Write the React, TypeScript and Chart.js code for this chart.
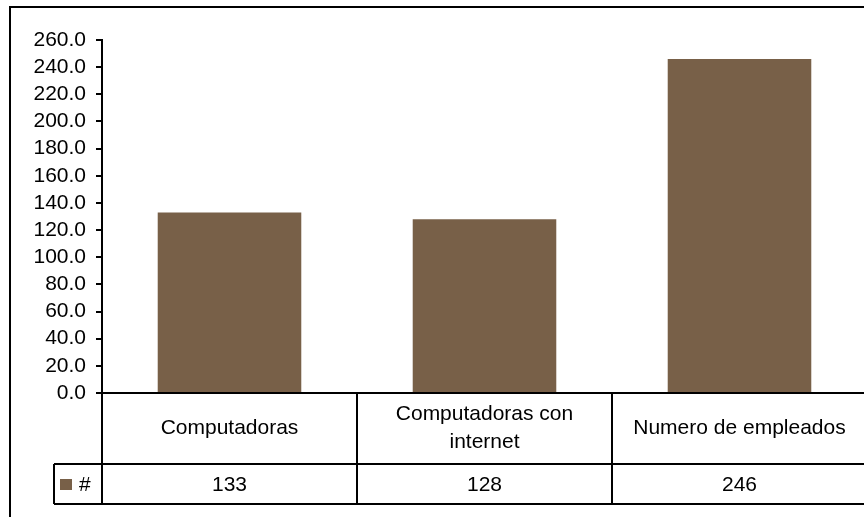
import React, { useEffect, useRef } from "react";
import { Chart, registerables } from "chart.js";

Chart.register(...registerables);

// Category labels (line breaks as drawn in the data table)
const categories: string[][] = [
  ["Computadoras"],
  ["Computadoras con", "internet"],
  ["Numero de empleados"],
];
const seriesName = "#";
const seriesValues = [133, 128, 246];
const yTicks = [0, 20, 40, 60, 80, 100, 120, 140, 160, 180, 200, 220, 240, 260];

const BAR_COLOR = "#786048";
const FONT = "'Liberation Sans', Arial, sans-serif";
const FONT_SIZE = 21;

const dataTablePlugin = {
  id: "dataTable",
  afterDraw(chart: any) {
    const ctx: CanvasRenderingContext2D = chart.ctx;
    const area = chart.chartArea;
    const xs = chart.scales.x;
    const n = categories.length;
    const step = (area.right - area.left) / n;
    const top = area.bottom;
    const mid = top + 71;
    const bottom = mid + 40;
    const legendLeft = 54;

    ctx.save();
    ctx.strokeStyle = "#000";
    ctx.lineWidth = 2;
    ctx.beginPath();
    // axis line / table top
    ctx.moveTo(area.left, top);
    ctx.lineTo(area.right + 2, top);
    // row separator and bottom edge
    ctx.moveTo(legendLeft, mid);
    ctx.lineTo(area.right + 2, mid);
    ctx.moveTo(legendLeft, bottom);
    ctx.lineTo(area.right + 2, bottom);
    // legend cell left edge
    ctx.moveTo(legendLeft, mid);
    ctx.lineTo(legendLeft, bottom);
    // column separators
    for (let i = 0; i <= n; i++) {
      const x = area.left + i * step;
      ctx.moveTo(x, top);
      ctx.lineTo(x, bottom);
    }
    ctx.stroke();

    // outer frame
    ctx.beginPath();
    ctx.moveTo(10, chart.height + 2);
    ctx.lineTo(10, 7);
    ctx.lineTo(chart.width + 2, 7);
    ctx.stroke();

    ctx.fillStyle = "#000";
    ctx.font = `${FONT_SIZE}px ${FONT}`;
    ctx.textAlign = "center";
    ctx.textBaseline = "middle";
    const lineH = 28;
    categories.forEach((lines, i) => {
      const cx = xs.getPixelForValue(i);
      const cy = (top + mid) / 2;
      lines.forEach((t, k) => {
        const y = cy + (k - (lines.length - 1) / 2) * lineH;
        ctx.fillText(t, cx, y);
      });
      ctx.fillText(String(seriesValues[i]), cx, (mid + bottom) / 2 + 1);
    });

    // legend key
    const ly = (mid + bottom) / 2;
    ctx.fillStyle = BAR_COLOR;
    ctx.fillRect(60, ly - 5, 12, 11);
    ctx.fillStyle = "#000";
    ctx.textAlign = "left";
    ctx.fillText(seriesName, 79, ly + 1);
    ctx.restore();
  },
};

const bgPlugin = {
  id: "bg",
  beforeDraw(chart: any) {
    const ctx = chart.ctx;
    ctx.save();
    ctx.fillStyle = "#fff";
    ctx.fillRect(0, 0, chart.width, chart.height);
    ctx.restore();
  },
};

export default function App() {
  const ref = useRef<HTMLCanvasElement>(null);

  useEffect(() => {
    if (!ref.current) return;
    const chart = new Chart(ref.current, {
      type: "bar",
      data: {
        labels: categories.map((c) => c.join(" ")),
        datasets: [
          {
            label: seriesName,
            data: seriesValues,
            backgroundColor: BAR_COLOR,
            borderWidth: 0,
            categoryPercentage: 1,
            barPercentage: 0.563,
          },
        ],
      },
      options: {
        responsive: false,
        animation: false,
        layout: { padding: { left: 0, top: 40, right: 0, bottom: 124 } },
        plugins: {
          legend: { display: false },
          tooltip: { enabled: false },
        },
        scales: {
          x: { display: false },
          y: {
            min: yTicks[0],
            max: yTicks[yTicks.length - 1],
            afterBuildTicks: (scale: any) => {
              scale.ticks = yTicks.map((v) => ({ value: v }));
            },
            afterFit: (scale: any) => {
              scale.width = 102;
            },
            border: { display: true, color: "#000", width: 2 },
            grid: {
              drawOnChartArea: false,
              drawTicks: true,
              tickLength: 6,
              color: "#000",
              lineWidth: 2,
            },
            ticks: {
              color: "#000",
              padding: 10,
              autoSkip: false,
              font: { family: FONT, size: FONT_SIZE },
              callback: (v: any) => Number(v).toFixed(1),
            },
          },
        },
      },
      plugins: [bgPlugin, dataTablePlugin],
    });
    return () => chart.destroy();
  }, []);

  return (
    <div
      style={{
        position: "fixed",
        left: 0,
        top: 0,
        width: 864,
        height: 517,
        overflow: "hidden",
        background: "#fff",
      }}
    >
      <canvas ref={ref} width={867} height={517} style={{ display: "block" }} />
    </div>
  );
}
